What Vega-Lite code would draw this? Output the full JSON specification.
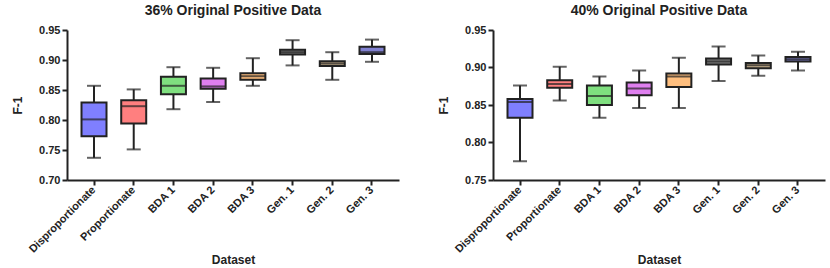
{
  "$schema": "https://vega.github.io/schema/vega-lite/v6.json",
  "padding": {"left": 11, "top": 4, "right": 3, "bottom": 2},
  "config": {
    "font": "Liberation Sans",
    "view": {"stroke": null},
    "axis": {"grid": false, "domainColor": "#222", "domainWidth": 2, "tickColor": "#222", "tickWidth": 2, "tickSize": 5,
      "labelFont": "Liberation Sans", "labelFontWeight": "bold", "labelFontSize": 11, "labelColor": "#222",
      "titleFont": "Liberation Sans", "titleFontWeight": "bold", "titleFontSize": 12, "titleColor": "#222"},
    "axisY": {"labelOverlap": false, "format": ".2f", "titlePadding": 14, "title": "F-1"},
    "title": {"font": "Liberation Sans", "fontWeight": "bold", "fontSize": 14, "color": "#222"},
    "concat": {"spacing": 38}
  },
  "datasets": {
    "a": [
      {"d": "Disproportionate", "min": 0.737, "q1": 0.773, "med": 0.801, "q3": 0.829, "max": 0.857},
      {"d": "Proportionate", "min": 0.751, "q1": 0.794, "med": 0.823, "q3": 0.833, "max": 0.851},
      {"d": "BDA 1", "min": 0.818, "q1": 0.843, "med": 0.857, "q3": 0.872, "max": 0.888},
      {"d": "BDA 2", "min": 0.830, "q1": 0.852, "med": 0.856, "q3": 0.869, "max": 0.887},
      {"d": "BDA 3", "min": 0.857, "q1": 0.867, "med": 0.873, "q3": 0.878, "max": 0.903},
      {"d": "Gen. 1", "min": 0.891, "q1": 0.909, "med": 0.913, "q3": 0.917, "max": 0.933},
      {"d": "Gen. 2", "min": 0.867, "q1": 0.890, "med": 0.894, "q3": 0.898, "max": 0.913},
      {"d": "Gen. 3", "min": 0.897, "q1": 0.910, "med": 0.913, "q3": 0.922, "max": 0.934}
    ],
    "b": [
      {"d": "Disproportionate", "min": 0.775, "q1": 0.833, "med": 0.854, "q3": 0.858, "max": 0.876},
      {"d": "Proportionate", "min": 0.856, "q1": 0.873, "med": 0.878, "q3": 0.883, "max": 0.901},
      {"d": "BDA 1", "min": 0.833, "q1": 0.850, "med": 0.862, "q3": 0.876, "max": 0.888},
      {"d": "BDA 2", "min": 0.846, "q1": 0.863, "med": 0.872, "q3": 0.880, "max": 0.896},
      {"d": "BDA 3", "min": 0.846, "q1": 0.874, "med": 0.888, "q3": 0.892, "max": 0.913},
      {"d": "Gen. 1", "min": 0.882, "q1": 0.904, "med": 0.908, "q3": 0.912, "max": 0.928},
      {"d": "Gen. 2", "min": 0.889, "q1": 0.899, "med": 0.903, "q3": 0.906, "max": 0.916},
      {"d": "Gen. 3", "min": 0.896, "q1": 0.908, "med": 0.911, "q3": 0.914, "max": 0.921}
    ]
  },
  "hconcat": [
    {
      "title": {"text": "36% Original Positive Data", "offset": 6},
      "width": 332, "height": 150,
      "data": {"name": "a"},
      "encoding": {
        "x": {"field": "d", "type": "nominal", "sort": null, "title": "Dataset", "scale": {"paddingInner": 0.3, "paddingOuter": 0.33},
          "axis": {"labelAngle": -45, "labelAlign": "right", "labelBaseline": "middle", "labelPadding": 3, "titlePadding": 0}}
      },
      "layer": [
        {"mark": {"type": "rule", "color": "#222", "strokeWidth": 2}, "encoding": {"y": {"field": "min", "type": "quantitative", "scale": {"domain": [0.70, 0.95], "nice": false, "zero": false}, "title": "F-1", "axis": {"values": [0.70, 0.75, 0.80, 0.85, 0.90, 0.95], "labelOverlap": false}}, "y2": {"field": "max"}}},
        {"mark": {"type": "tick", "color": "#222", "thickness": 2, "size": 14}, "encoding": {"y": {"field": "min", "type": "quantitative", "title": "F-1", "axis": {"values": [0.70, 0.75, 0.80, 0.85, 0.90, 0.95], "labelOverlap": false}}}},
        {"mark": {"type": "tick", "color": "#222", "thickness": 2, "size": 14}, "encoding": {"y": {"field": "max", "type": "quantitative", "title": "F-1", "axis": {"values": [0.70, 0.75, 0.80, 0.85, 0.90, 0.95], "labelOverlap": false}}}},
        {"mark": {"type": "bar", "size": 25, "stroke": "#222", "strokeWidth": 2}, "encoding": {"y": {"field": "q1", "type": "quantitative", "title": "F-1", "axis": {"values": [0.70, 0.75, 0.80, 0.85, 0.90, 0.95], "labelOverlap": false}}, "y2": {"field": "q3"},
          "color": {"field": "d", "type": "nominal", "sort": null, "legend": null, "scale": {"domain": ["Disproportionate", "Proportionate", "BDA 1", "BDA 2", "BDA 3", "Gen. 1", "Gen. 2", "Gen. 3"], "range": ["#7f7fff", "#ff7f7f", "#7fdf7f", "#df7fef", "#ffbf7f", "#808080", "#c8b08c", "#8080d0"]}}}},
        {"mark": {"type": "tick", "color": "#222", "thickness": 2, "size": 25}, "encoding": {"y": {"field": "med", "type": "quantitative", "title": "F-1", "axis": {"values": [0.70, 0.75, 0.80, 0.85, 0.90, 0.95], "labelOverlap": false}}}}
      ]
    },
    {
      "title": {"text": "40% Original Positive Data", "offset": 6},
      "width": 332, "height": 150,
      "data": {"name": "b"},
      "encoding": {
        "x": {"field": "d", "type": "nominal", "sort": null, "title": "Dataset", "scale": {"paddingInner": 0.3, "paddingOuter": 0.33},
          "axis": {"labelAngle": -45, "labelAlign": "right", "labelBaseline": "middle", "labelPadding": 3, "titlePadding": 0}}
      },
      "layer": [
        {"mark": {"type": "rule", "color": "#222", "strokeWidth": 2}, "encoding": {"y": {"field": "min", "type": "quantitative", "scale": {"domain": [0.75, 0.95], "nice": false, "zero": false}, "title": "F-1", "axis": {"values": [0.75, 0.80, 0.85, 0.90, 0.95], "labelOverlap": false}}, "y2": {"field": "max"}}},
        {"mark": {"type": "tick", "color": "#222", "thickness": 2, "size": 14}, "encoding": {"y": {"field": "min", "type": "quantitative", "title": "F-1", "axis": {"values": [0.75, 0.80, 0.85, 0.90, 0.95], "labelOverlap": false}}}},
        {"mark": {"type": "tick", "color": "#222", "thickness": 2, "size": 14}, "encoding": {"y": {"field": "max", "type": "quantitative", "title": "F-1", "axis": {"values": [0.75, 0.80, 0.85, 0.90, 0.95], "labelOverlap": false}}}},
        {"mark": {"type": "bar", "size": 25, "stroke": "#222", "strokeWidth": 2}, "encoding": {"y": {"field": "q1", "type": "quantitative", "title": "F-1", "axis": {"values": [0.75, 0.80, 0.85, 0.90, 0.95], "labelOverlap": false}}, "y2": {"field": "q3"},
          "color": {"field": "d", "type": "nominal", "sort": null, "legend": null, "scale": {"domain": ["Disproportionate", "Proportionate", "BDA 1", "BDA 2", "BDA 3", "Gen. 1", "Gen. 2", "Gen. 3"], "range": ["#7f7fff", "#ff7f7f", "#7fdf7f", "#df7fef", "#ffbf7f", "#808080", "#c8b08c", "#8080d0"]}}}},
        {"mark": {"type": "tick", "color": "#222", "thickness": 2, "size": 25}, "encoding": {"y": {"field": "med", "type": "quantitative", "title": "F-1", "axis": {"values": [0.75, 0.80, 0.85, 0.90, 0.95], "labelOverlap": false}}}}
      ]
    }
  ]
}
